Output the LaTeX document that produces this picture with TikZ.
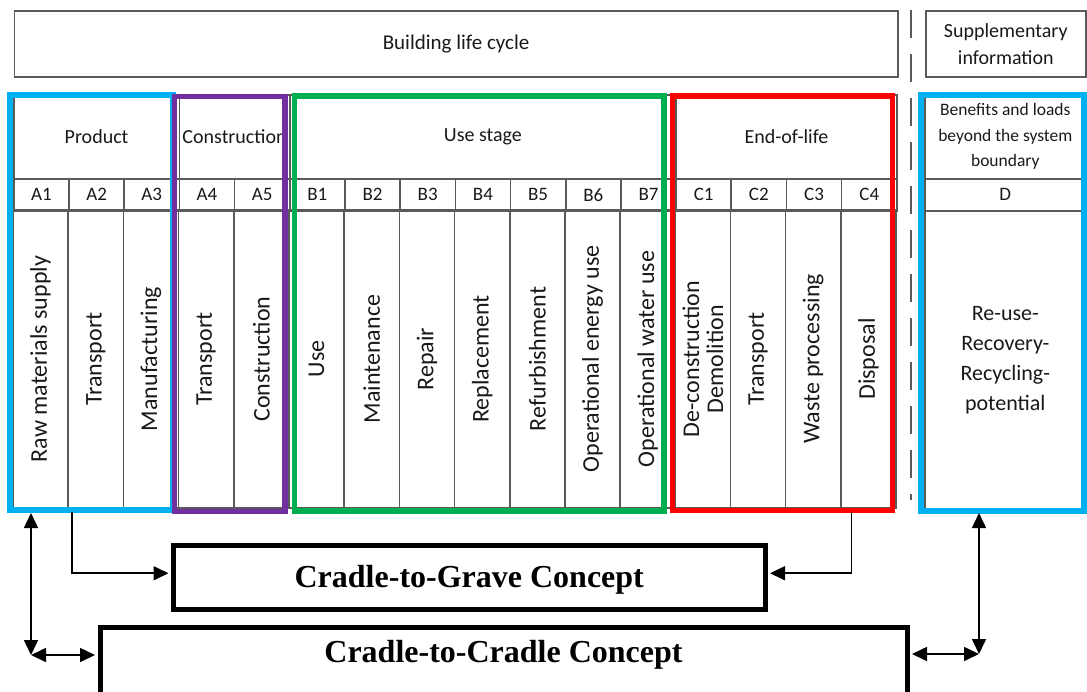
\documentclass[tikz,border=0pt]{standalone}
\usepackage{fontspec}
\setmainfont{Carlito}
\newfontfamily\conceptfont{Liberation Serif}
\usetikzlibrary{arrows.meta}
\definecolor{gridgray}{RGB}{90,90,90}
\definecolor{prodblue}{RGB}{0,176,240}
\definecolor{conpurple}{RGB}{112,48,160}
\definecolor{usegreen}{RGB}{0,176,80}
\definecolor{eolred}{RGB}{255,0,0}
\tikzset{%
  cell/.style={draw=gridgray,line width=1.6pt,inner sep=0pt,anchor=north west,text=black!90},
  headcell/.style={cell,align=center,font=\fontsize{20}{27}\selectfont},
  codecell/.style={cell,minimum height=32pt,font=\fontsize{19}{22}\selectfont},
  modcell/.style={cell,anchor=center,rotate=90,align=center,minimum width=298pt,
    font=\fontsize{24}{24}\selectfont},
  bound/.style={line width=5.5pt},
  concept/.style={draw=black,line width=5pt,inner sep=0pt,anchor=base,
    font=\conceptfont\bfseries\fontsize{32}{38}\selectfont},
  link/.style={line width=1.6pt,shorten >=2.5pt,-{Triangle[length=15pt,width=14pt]}},
  twoway/.style={line width=1.6pt,{Triangle[length=15pt,width=14pt]}-{Triangle[length=15pt,width=14pt]}},
  divider/.style={draw=gridgray,line width=2.5pt,dash pattern=on 28pt off 16pt},
}
\newcommand{\ColW}{55.19}% width of one module column

\begin{document}
\begin{tikzpicture}[x=1pt,y=-1pt]
  \useasboundingbox (0,0) rectangle (1087,691);
  % title row
  \node[headcell,font=\fontsize{21}{27}\selectfont,minimum width=883.5pt,minimum height=66pt]
    (life) at (13.5,10) {Building life cycle};
  \node[headcell,minimum width=160pt,minimum height=66pt] (supp) at (925,10) {Supplementary\\information};
  % stage headers
  \node[headcell,minimum width={3*\ColW*1pt},minimum height=84pt] (hA) at (13,94) {Product};
  \node[headcell,minimum width={2*\ColW*1pt},minimum height=84pt] (hAc) at ({13+3*\ColW},94) {Construction};
  \node[headcell,minimum width={7*\ColW*1pt},minimum height=84pt] (hB) at ({13+5*\ColW},94) {Use stage};
  \node[headcell,minimum width={4*\ColW*1pt},minimum height=84pt] (hC) at ({13+12*\ColW},94) {End-of-life};
  \node[headcell,font=\fontsize{17.5}{25.5}\selectfont,minimum width=161pt,minimum height=84pt]
    (hD) at (924,94) {Benefits and loads\\beyond the system\\boundary};
  % module codes and names
  \foreach \code/\name [count=\i from 0] in {A1/Raw materials supply,A2/Transport,A3/Manufacturing,
      A4/Transport,A5/Construction,B1/Use,B2/Maintenance,B3/Repair,B4/Replacement,
      B5/Refurbishment,B6/Operational energy use,B7/Operational water use,
      C1/{De-construction\\Demolition},C2/Transport,C3/Waste processing,C4/Disposal} {
    \node[codecell,minimum width={\ColW*1pt}] (k\code) at ({13+\i*\ColW},178) {\code};
    \node[modcell,minimum height={\ColW*1pt}] (m\code) at ({13+(\i+0.5)*\ColW},359) {\name};
  }
  \node[codecell,minimum width=161pt] (kD) at (924,178) {D};
  \node[cell,minimum width=161pt,minimum height=298pt,align=center,font=\fontsize{22}{30}\selectfont]
    (mD) at (924,210) {Re-use-\\Recovery-\\Recycling-\\potential};
  % boundary of the building life cycle
  \draw[divider] (911,10) -- (911,500);
  % system boundaries
  \draw[bound,prodblue] (10,95) rectangle (173,510);
  \draw[bound,conpurple] (174.5,96.5) rectangle (285,511.5);
  \draw[bound,usegreen] (294.5,96) rectangle (664,511);
  \draw[bound,eolred] (672.5,96) rectangle (892.5,510.5);
  \draw[bound,prodblue] (921,95) rectangle (1084,511);
  % concepts
  \node[concept,minimum width=591.5pt,text height=42pt,text depth=22.5pt] (grave) at (469.25,587)
    {Cradle-to-Grave Concept};
  \node[concept,minimum width=807pt,text height=34.5pt,text depth=32pt] (cradle) at (503.5,662)
    {Cradle-to-Cradle Concept};
  % scope arrows
  \coordinate (gL) at (72,512);
  \coordinate (gR) at (851.5,512);
  \coordinate (bA) at (31,513);
  \coordinate (cL) at (31,655);
  \coordinate (bD) at (979,513);
  \coordinate (cR) at (979,654);
  \draw[link] (gL) |- ([yshift=4pt]grave.west);
  \draw[link] (gR) |- ([yshift=4pt]grave.east);
  \draw[twoway] (bA) -- (cL);
  \draw[twoway,shorten >=2.5pt] (cL) -- (cradle.west |- cL);
  \draw[twoway] (bD) -- (cR);
  \draw[twoway,shorten <=2.5pt] (cradle.east |- cR) -- (cR);
\end{tikzpicture}
\end{document}
